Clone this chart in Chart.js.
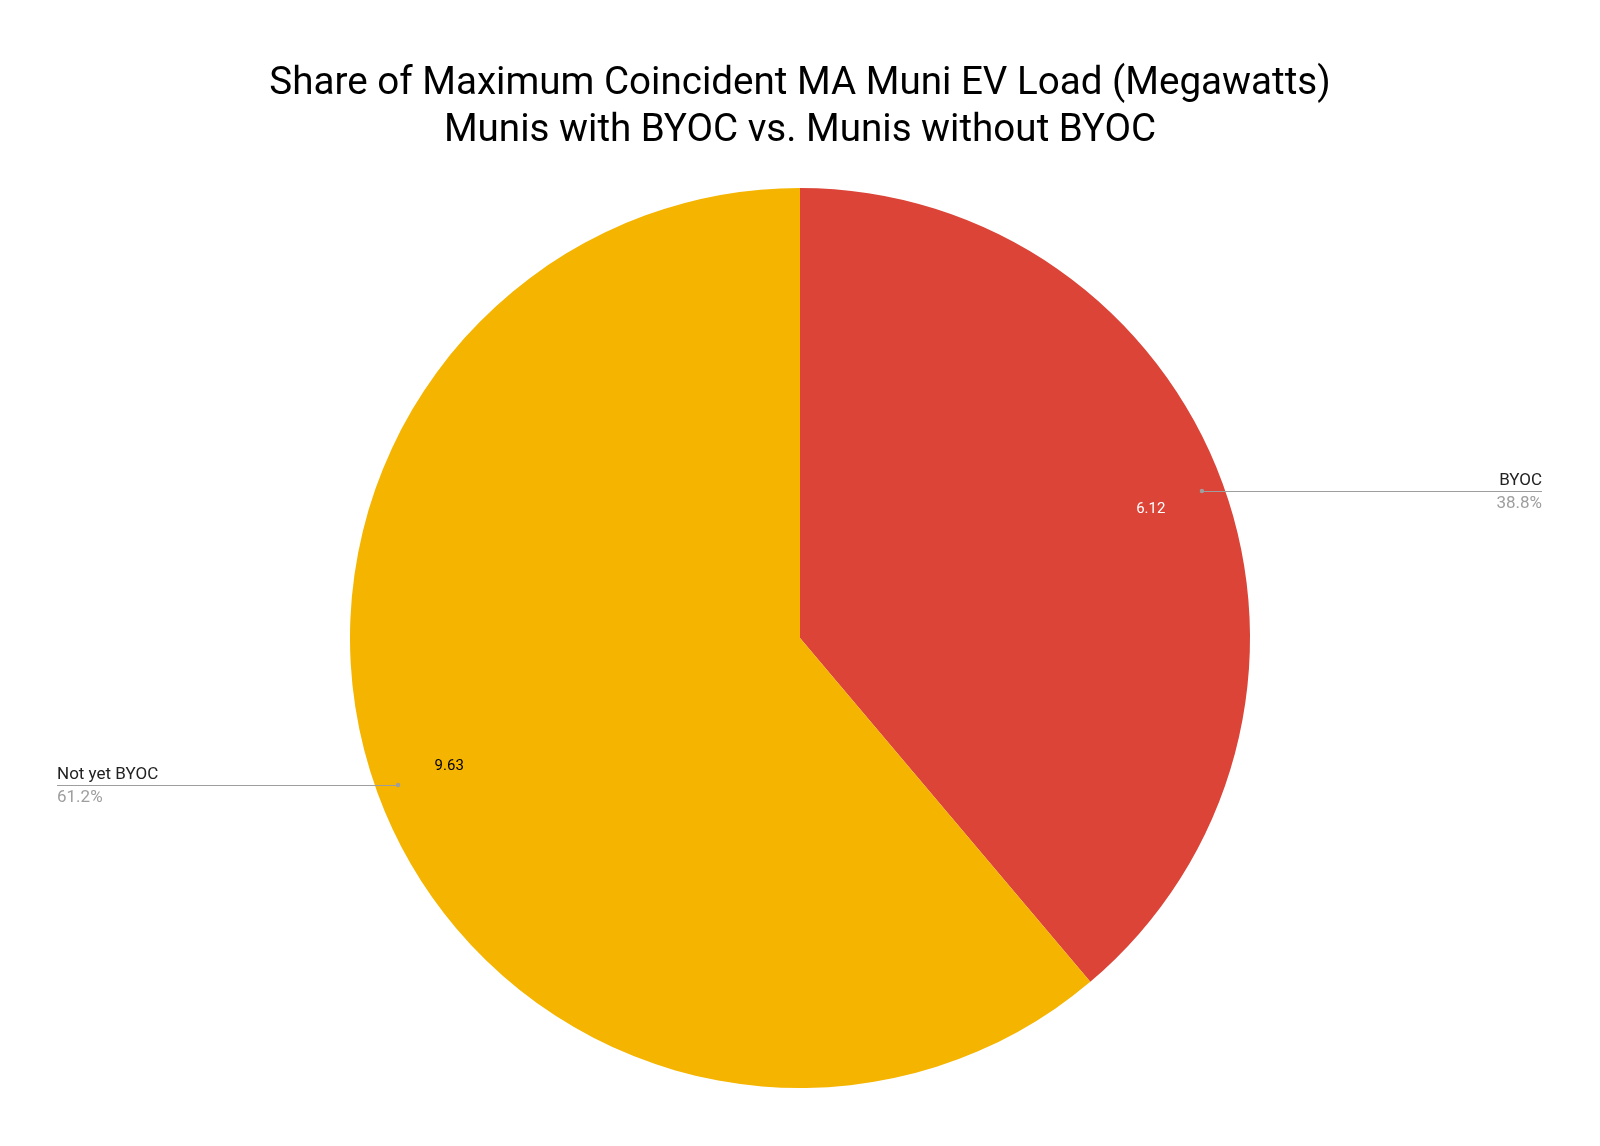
<!DOCTYPE html>
<html>
<head>
<meta charset="utf-8">
<script src="https://cdn.jsdelivr.net/npm/chart.js@4.4.1/dist/chart.umd.min.js"></script>
<style>
  html, body { margin: 0; padding: 0; background: #fff; }
  #wrap { width: 1600px; height: 1146px; }
</style>
</head>
<body>
<div id="wrap"><canvas id="myChart"></canvas></div>
<script>
  // DATA
  const categories = ['BYOC', 'Not yet BYOC'];
  const loadMW = [6.116, 9.63];
  const colors = ['#DB4437', '#F4B400'];
  const valueColors = ['#ffffff', '#000000'];

  // draws the google-style leader lines, names, percents and values
  const sideLabels = {
    id: 'sideLabels',
    afterDatasetsDraw(chart) {
      const ctx = chart.ctx;
      const meta = chart.getDatasetMeta(0);
      const total = loadMW.reduce((a, b) => a + b, 0);
      ctx.save();
      meta.data.forEach((arc, i) => {
        const mid = (arc.startAngle + arc.endAngle) / 2;
        const R = arc.outerRadius;
        const cx = arc.x, cy = arc.y;

        // value inside slice
        ctx.font = '15px Roboto';
        ctx.fillStyle = valueColors[i];
        ctx.textAlign = 'center';
        ctx.textBaseline = 'middle';
        ctx.fillText(loadMW[i].toFixed(2), cx + Math.cos(mid) * R * 0.83, cy + Math.sin(mid) * R * 0.83);

        // leader dot + line
        const dx = cx + Math.cos(mid) * R * 0.951;
        const dy = cy + Math.sin(mid) * R * 0.951;
        const right = Math.cos(mid) > 0;
        const endX = right ? chart.width - 58 : 57;
        ctx.strokeStyle = '#9e9e9e';
        ctx.lineWidth = 1;
        ctx.beginPath();
        ctx.moveTo(dx, Math.round(dy) + 0.5);
        ctx.lineTo(endX, Math.round(dy) + 0.5);
        ctx.stroke();
        ctx.fillStyle = '#9e9e9e';
        ctx.beginPath();
        ctx.arc(dx, dy, 2.2, 0, Math.PI * 2);
        ctx.fill();

        // name and percent
        ctx.textAlign = right ? 'right' : 'left';
        ctx.textBaseline = 'alphabetic';
        ctx.font = '17px Roboto';
        ctx.fillStyle = '#222222';
        ctx.fillText(categories[i], endX, dy - 6);
        ctx.fillStyle = '#9e9e9e';
        ctx.fillText((loadMW[i] / total * 100).toFixed(1) + '%', endX, dy + 17);
      });
      ctx.restore();
    }
  };

  const config = {
    type: 'pie',
    data: {
      labels: categories,
      datasets: [{
        data: loadMW,
        backgroundColor: colors,
        borderWidth: 0
      }]
    },
    options: {
      responsive: true,
      maintainAspectRatio: false,
      animation: false,
      layout: {
        padding: { top: 0, bottom: 58, left: 0, right: 0 }
      },
      plugins: {
        legend: { display: false },
        tooltip: { enabled: false },
        title: {
          display: true,
          text: ['Share of Maximum Coincident MA Muni EV Load (Megawatts)', 'Munis with BYOC vs. Munis without BYOC'],
          color: '#000000',
          font: { family: 'Roboto', size: 38.6, weight: 'normal', lineHeight: 1.22 },
          padding: { top: 60.5, bottom: 33.3 }
        }
      }
    },
    plugins: [sideLabels]
  };

  var myChart = new Chart(document.getElementById('myChart'), config);
</script>
</body>
</html>
